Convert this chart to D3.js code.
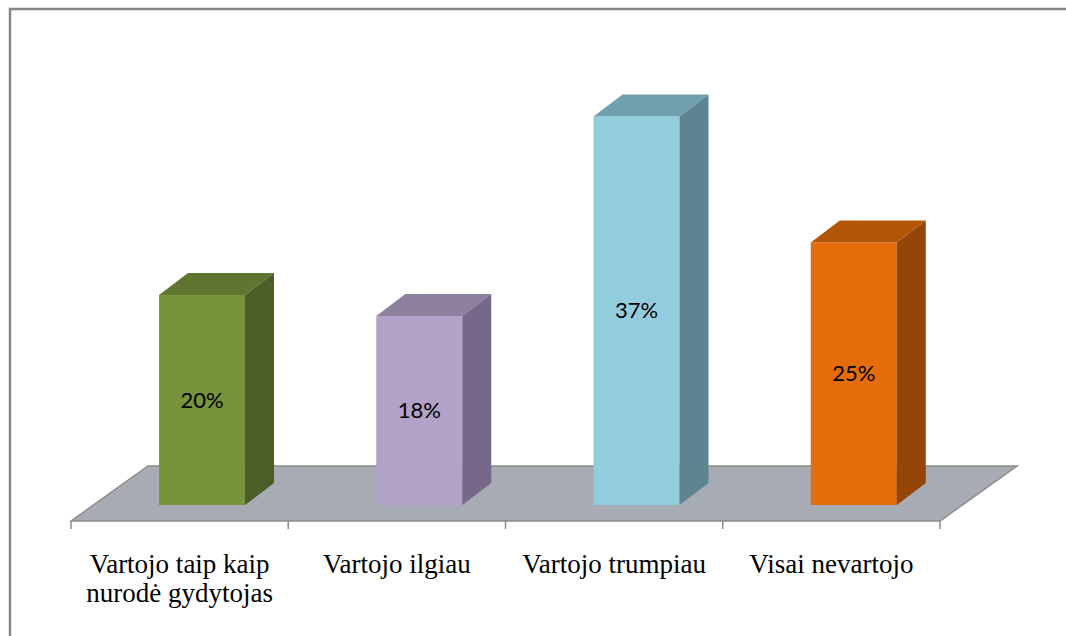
<!DOCTYPE html>
<html>
<head>
<meta charset="utf-8">
<script src="https://cdn.jsdelivr.net/npm/d3@7"></script>
<style>
  body { margin: 0; background: #fff; }
</style>
</head>
<body>
<div id="chart"></div>
<script>
// chart data
var categories = [["Vartojo taip kaip", "nurodė gydytojas"], ["Vartojo ilgiau"], ["Vartojo trumpiau"], ["Visai nevartojo"]];
var values = [20, 18, 37, 25];
var frontColors = ["#77933c", "#b3a2c7", "#93cddd", "#e46c0a"];
var topColors = ["#5f7630", "#8e81a0", "#71a0ae", "#b45608"];
var sideColors = ["#4b5e27", "#766889", "#5e8490", "#944507"];

var width = 1066, height = 636;

var svg = d3.select("#chart").append("svg")
  .attr("width", width)
  .attr("height", height);

// outer frame (right and bottom run off the picture)
svg.append("rect")
  .attr("x", 10).attr("y", 9)
  .attr("width", 1080).attr("height", 660)
  .attr("fill", "none")
  .attr("stroke", "#888")
  .attr("stroke-width", 2.5);

var floorY = 521,            // front edge of the floor
  floorDx = 77, floorDy = 55, // floor depth offset
  barInset = 16,             // bar front sits this far behind the floor front (in y)
  barDx = 29, barDy = 22;    // bar depth

var x = d3.scaleBand()
  .domain(d3.range(categories.length))
  .range([71, 940])
  .paddingInner(0).paddingOuter(0);

var baseY = floorY - barInset;
var y = d3.scaleLinear()
  .domain([0, 40])
  .range([baseY, baseY - 420]);

// floor
var fx0 = x.range()[0], fx1 = x.range()[1];
svg.append("path")
  .attr("d", "M" + fx0 + "," + floorY +
    "L" + (fx0 + floorDx) + "," + (floorY - floorDy) +
    "L" + (fx1 + floorDx) + "," + (floorY - floorDy) +
    "L" + fx1 + "," + floorY + "Z")
  .attr("fill", "#a6abb4")
  .attr("stroke", "#8c8c8c")
  .attr("stroke-width", 1.5);

// axis ticks along floor front edge
var tickPos = d3.range(categories.length + 1).map(function(i) { return fx0 + i * x.bandwidth(); });
svg.selectAll(".tick").data(tickPos).enter()
  .append("line")
  .attr("x1", function(d) { return d; }).attr("x2", function(d) { return d; })
  .attr("y1", floorY).attr("y2", floorY + 8)
  .attr("stroke", "#8c8c8c")
  .attr("stroke-width", 1.5);

var barW = 86;
var shiftX = barInset * floorDx / floorDy;

var bars = svg.selectAll(".bar").data(values).enter()
  .append("g");

function barLeft(i) { return x(i) + x.bandwidth() / 2 + shiftX - barW / 2; }

// front face
bars.append("rect")
  .attr("x", function(d, i) { return barLeft(i); })
  .attr("y", function(d) { return y(d); })
  .attr("width", barW)
  .attr("height", function(d) { return y(0) - y(d); })
  .attr("fill", function(d, i) { return frontColors[i]; });

// top face
bars.append("path")
  .attr("d", function(d, i) {
    var l = barLeft(i), t = y(d);
    return "M" + l + "," + t + "L" + (l + barDx) + "," + (t - barDy) +
      "L" + (l + barW + barDx) + "," + (t - barDy) + "L" + (l + barW) + "," + t + "Z";
  })
  .attr("fill", function(d, i) { return topColors[i]; });

// side face
bars.append("path")
  .attr("d", function(d, i) {
    var r = barLeft(i) + barW, t = y(d), b = y(0);
    return "M" + r + "," + t + "L" + (r + barDx) + "," + (t - barDy) +
      "L" + (r + barDx) + "," + (b - barDy) + "L" + r + "," + b + "Z";
  })
  .attr("fill", function(d, i) { return sideColors[i]; });

// value labels
bars.append("text")
  .attr("x", function(d, i) { return barLeft(i) + barW / 2; })
  .attr("y", function(d) { return (y(d) + y(0)) / 2; })
  .attr("dy", "0.35em")
  .attr("text-anchor", "middle")
  .attr("font-family", "Lato, 'Open Sans', sans-serif")
  .attr("font-size", "22px")
  .attr("fill", "#000")
  .text(function(d) { return d + "%"; });

// category labels
var labels = svg.selectAll(".cat").data(categories).enter()
  .append("text")
  .attr("text-anchor", "middle")
  .attr("font-family", "'Liberation Serif', 'Times New Roman', serif")
  .attr("font-size", "27px")
  .attr("fill", "#000");

labels.selectAll("tspan").data(function(d, i) { return d.map(function(s) { return {s: s, i: i}; }); })
  .enter().append("tspan")
  .attr("x", function(d) { return x(d.i) + x.bandwidth() / 2; })
  .attr("y", function(d, j) { return 573 + j * 29; })
  .text(function(d) { return d.s; });
</script>
</body>
</html>
